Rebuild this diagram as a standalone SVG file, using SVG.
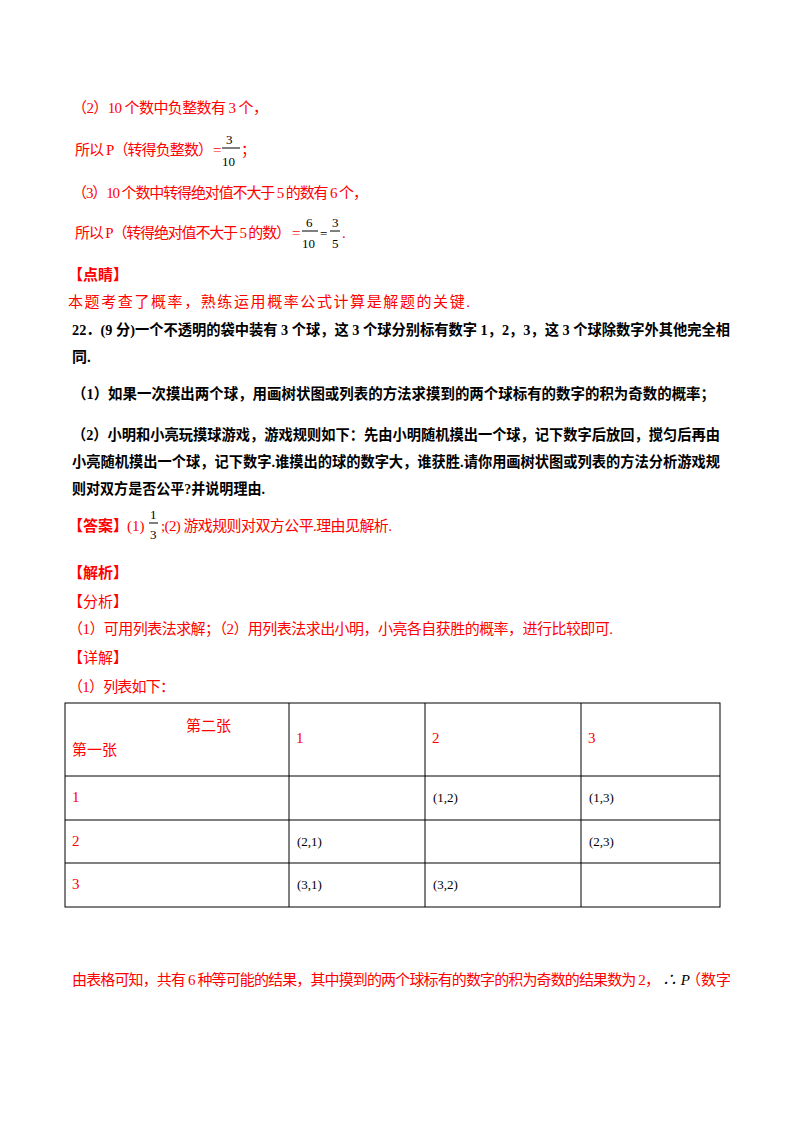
<svg xmlns="http://www.w3.org/2000/svg" width="800" height="1132" viewBox="0 0 800 1132">
<style>
text{font-family:"Liberation Serif","Noto Sans CJK SC",serif;font-size:15px}
.r{fill:#f00}
.k{fill:#000}
.b{font-weight:bold}
.f{font-size:13px;fill:#000}
.t{fill:none;stroke:#000;stroke-width:1}
</style>
<rect width="800" height="1132" fill="#fff"/>
<g id="part2">
<text class="r" x="72" y="113" textLength="196" lengthAdjust="spacing">（2）10 个数中负整数有 3 个，</text>
<text class="r" x="75" y="155" textLength="138" lengthAdjust="spacing">所以 P（转得负整数）</text>
<text class="r" x="213" y="155">=</text>
<text class="f" x="226" y="144">3</text>
<line x1="222" y1="148" x2="240" y2="148" stroke="#000"/>
<text class="f" x="222" y="166">10</text>
<text class="r" x="241" y="155">；</text>
</g>
<g id="part3">
<text class="r" x="72" y="198" textLength="296" lengthAdjust="spacing">（3）10 个数中转得绝对值不大于 5 的数有 6 个，</text>
<text class="r" x="75" y="238" textLength="216" lengthAdjust="spacing">所以 P（转得绝对值不大于 5 的数）</text>
<text class="r" x="292" y="238">=</text>
<text class="f" x="306" y="227">6</text>
<line x1="302" y1="231" x2="318" y2="231" stroke="#000"/>
<text class="f" x="302" y="248">10</text>
<text class="f" x="320" y="238">=</text>
<text class="f" x="332" y="227">3</text>
<line x1="330" y1="231" x2="340" y2="231" stroke="#000"/>
<text class="f" x="332" y="248">5</text>
<text class="r" x="342" y="238">.</text>
</g>
<g id="dianjing">
<text class="r b" x="68" y="280">【点睛】</text>
<text class="r" x="68" y="307" textLength="402" lengthAdjust="spacing">本题考查了概率，熟练运用概率公式计算是解题的关键.</text>
</g>
<g id="q22">
<text class="k b" x="72" y="335" textLength="658" lengthAdjust="spacingAndGlyphs">22．(9 分)一个不透明的袋中装有 3 个球，这 3 个球分别标有数字 1，2，3，这 3 个球除数字外其他完全相</text>
<text class="k b" x="72" y="362">同.</text>
<text class="k b" x="72" y="399" textLength="643" lengthAdjust="spacingAndGlyphs">（1）如果一次摸出两个球，用画树状图或列表的方法求摸到的两个球标有的数字的积为奇数的概率；</text>
<text class="k b" x="72" y="440" textLength="648" lengthAdjust="spacingAndGlyphs">（2）小明和小亮玩摸球游戏，游戏规则如下：先由小明随机摸出一个球，记下数字后放回，搅匀后再由</text>
<text class="k b" x="72" y="467" textLength="648" lengthAdjust="spacingAndGlyphs">小亮随机摸出一个球，记下数字.谁摸出的球的数字大，谁获胜.请你用画树状图或列表的方法分析游戏规</text>
<text class="k b" x="72" y="494" textLength="193" lengthAdjust="spacingAndGlyphs">则对双方是否公平?并说明理由.</text>
</g>
<g id="answer">
<text class="r b" x="68" y="531">【答案】</text>
<text class="r" x="127" y="531">(1)</text>
<text class="f" x="150" y="519">1</text>
<line x1="149" y1="523" x2="158" y2="523" stroke="#000"/>
<text class="f" x="150" y="539">3</text>
<text class="r" x="161" y="531" textLength="231" lengthAdjust="spacing">;(2) 游戏规则对双方公平.理由见解析.</text>
</g>
<g id="analysis">
<text class="r b" x="68" y="578">【解析】</text>
<text class="r" x="68" y="607">【分析】</text>
<text class="r" x="68" y="634" textLength="545" lengthAdjust="spacing">（1）可用列表法求解；（2）用列表法求出小明，小亮各自获胜的概率，进行比较即可.</text>
<text class="r" x="68" y="663">【详解】</text>
<text class="r" x="68" y="692" textLength="107" lengthAdjust="spacing">（1）列表如下：</text>
</g>
<g id="table">
<rect class="t" x="65" y="703" width="655" height="204"/>
<line class="t" x1="65" y1="776" x2="720" y2="776"/>
<line class="t" x1="65" y1="820" x2="720" y2="820"/>
<line class="t" x1="65" y1="863" x2="720" y2="863"/>
<line class="t" x1="289" y1="703" x2="289" y2="907"/>
<line class="t" x1="425" y1="703" x2="425" y2="907"/>
<line class="t" x1="581" y1="703" x2="581" y2="907"/>
<text class="r" x="186" y="731">第二张</text>
<text class="r" x="72" y="755">第一张</text>
<text class="r" x="296" y="743">1</text>
<text class="r" x="432" y="743">2</text>
<text class="r" x="588" y="743">3</text>
<text class="r" x="72" y="802">1</text>
<text class="r" x="72" y="846">2</text>
<text class="r" x="72" y="889">3</text>
<text class="f" x="433" y="802">(1,2)</text>
<text class="f" x="589" y="802">(1,3)</text>
<text class="f" x="297" y="846">(2,1)</text>
<text class="f" x="589" y="846">(2,3)</text>
<text class="f" x="297" y="889">(3,1)</text>
<text class="f" x="433" y="889">(3,2)</text>
</g>
<g id="conclusion">
<text class="r" x="72" y="985" textLength="588" lengthAdjust="spacing">由表格可知，共有 6 种等可能的结果，其中摸到的两个球标有的数字的积为奇数的结果数为 2，</text>
<text class="k" x="662" y="985" font-style="italic">∴ P</text>
<text class="r" x="686" y="985">（数字</text>
</g>
</svg>
